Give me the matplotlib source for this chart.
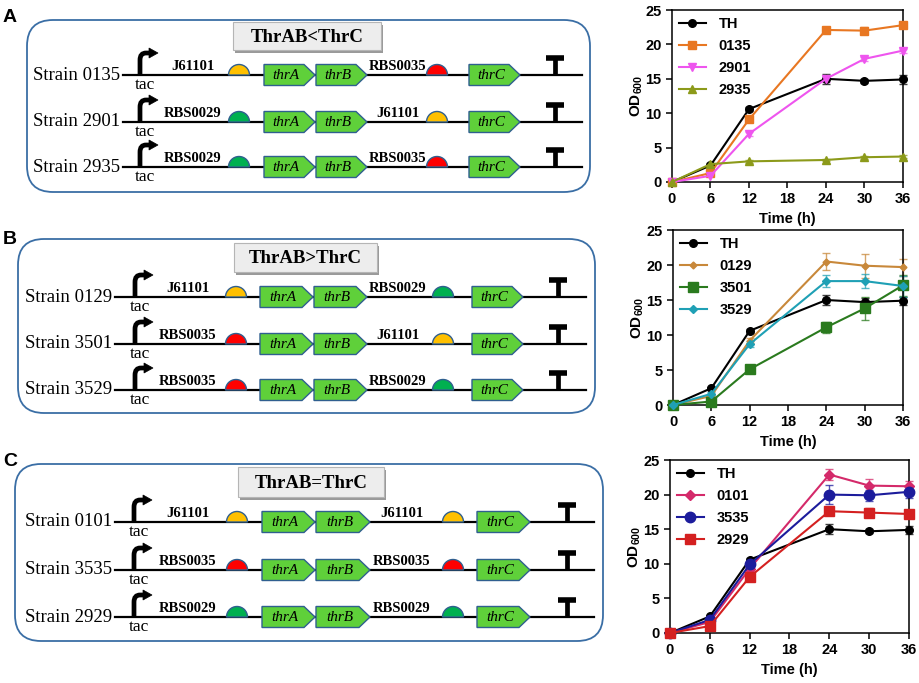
import matplotlib
matplotlib.use('Agg')
import matplotlib.pyplot as plt
from matplotlib.patches import FancyBboxPatch, Rectangle, Polygon, Wedge, PathPatch
from matplotlib.path import Path

plt.rcParams['mathtext.fontset'] = 'custom'
plt.rcParams['mathtext.bf'] = 'Liberation Sans:bold'
plt.rcParams['mathtext.rm'] = 'Liberation Sans:bold'

# ---------------- data ----------------
time_h = [0, 6, 12, 24, 30, 36]
x_ticks = [0, 6, 12, 18, 24, 30, 36]
y_ticks = [0, 5, 10, 15, 20, 25]

# Panel A
a_labels = ['TH', '0135', '2901', '2935']
a_TH = [0, 2.4, 10.6, 15.0, 14.7, 14.9]
a_0135 = [0, 1.3, 9.1, 22.1, 22.0, 22.8]
a_2901 = [0, 0.9, 7.0, 15.0, 17.9, 19.1]
a_2935 = [0, 2.6, 3.0, 3.2, 3.6, 3.7]
a_err_TH = [0, 0.2, 0.3, 0.7, 0.3, 0.6]
a_err_0135 = [0, 0.2, 0.4, 0.5, 0.5, 0.4]
a_err_2901 = [0, 0.1, 0.3, 0.4, 0.3, 0.3]
a_err_2935 = [0, 0.1, 0.2, 0.2, 0.2, 0.2]

# Panel B
b_labels = ['TH', '0129', '3501', '3529']
b_TH = [0, 2.4, 10.6, 15.0, 14.7, 14.9]
b_0129 = [0, 1.3, 9.2, 20.5, 19.9, 19.7]
b_3501 = [0, 0.5, 5.1, 11.1, 13.8, 17.1]
b_3529 = [0, 1.6, 8.7, 17.7, 17.7, 17.0]
b_err_TH = [0, 0.2, 0.3, 0.7, 0.6, 0.6]
b_err_0129 = [0, 0.2, 0.4, 1.2, 1.7, 1.2]
b_err_3501 = [0, 0.2, 0.3, 0.8, 1.7, 1.5]
b_err_3529 = [0, 0.2, 0.4, 0.9, 1.0, 1.5]

# Panel C
c_labels = ['TH', '0101', '3535', '2929']
c_TH = [0, 2.4, 10.6, 15.0, 14.7, 14.9]
c_0101 = [0, 1.6, 9.3, 22.9, 21.3, 21.2]
c_3535 = [0, 1.9, 9.9, 20.0, 19.9, 20.4]
c_2929 = [0, 1.0, 8.1, 17.6, 17.4, 17.2]
c_err_TH = [0, 0.2, 0.3, 0.7, 0.3, 0.6]
c_err_0101 = [0, 0.2, 0.4, 0.8, 1.0, 0.7]
c_err_3535 = [0, 0.2, 0.4, 1.4, 0.8, 0.9]
c_err_2929 = [0, 0.2, 0.3, 0.6, 0.6, 0.4]

# Construct diagrams
panel_letters = ['A', 'B', 'C']
panel_titles = ['ThrAB<ThrC', 'ThrAB>ThrC', 'ThrAB=ThrC']
a_strains = ['Strain 0135', 'Strain 2901', 'Strain 2935']
a_rbs1 = ['J61101', 'RBS0029', 'RBS0029']
a_rbs2 = ['RBS0035', 'J61101', 'RBS0035']
b_strains = ['Strain 0129', 'Strain 3501', 'Strain 3529']
b_rbs1 = ['J61101', 'RBS0035', 'RBS0035']
b_rbs2 = ['RBS0029', 'J61101', 'RBS0029']
c_strains = ['Strain 0101', 'Strain 3535', 'Strain 2929']
c_rbs1 = ['J61101', 'RBS0035', 'RBS0029']
c_rbs2 = ['J61101', 'RBS0035', 'RBS0029']
genes = ['thrA', 'thrB', 'thrC']
promoter_name = 'tac'

rbs_colors = {'J61101': '#FFC000', 'RBS0035': '#FF0000', 'RBS0029': '#00B050'}

# ---------------- figure ----------------
fig = plt.figure(figsize=(9.2, 6.83), dpi=100)
W, H = 920, 683
dax = fig.add_axes([0, 0, 1, 1])
dax.set_xlim(0, W)
dax.set_ylim(H, 0)
dax.axis('off')

SERIF = 'Liberation Serif'
SANS = 'Liberation Sans'
EDGE = '#3A6EA5'
GENE_FC = '#5FD03A'
GENE_EC = '#2F5F8F'

geoms = [
    dict(box=(27, 20, 590, 192), title=(233, 22, 381, 50), rows=[75, 122, 167],
         line=(123, 582), prom=140, lab1=193, rbs1=239, thrA=(264, 315),
         thrB=(316, 367), lab2=398, rbs2=437, thrC=(469, 520), term=555,
         letter=(10, 18)),
    dict(box=(18, 239, 595, 413), title=(234, 243, 377, 272), rows=[297, 344, 390],
         line=(115, 586), prom=135, lab1=188, rbs1=236, thrA=(260, 313),
         thrB=(314, 367), lab2=398, rbs2=443, thrC=(472, 523), term=558,
         letter=(10, 239)),
    dict(box=(15, 464, 603, 641), title=(238, 467, 384, 497), rows=[522, 570, 617],
         line=(115, 594), prom=134, lab1=188, rbs1=237, thrA=(262, 315),
         thrB=(316, 370), lab2=402, rbs2=453, thrC=(477, 530), term=567,
         letter=(10, 461)),
]
strain_sets = [a_strains, b_strains, c_strains]
rbs1_sets = [a_rbs1, b_rbs1, c_rbs1]
rbs2_sets = [a_rbs2, b_rbs2, c_rbs2]


def gene(ax, x0, x1, yc, name, h=21, tip=11):
    pts = [(x0, yc - h / 2), (x1 - tip, yc - h / 2), (x1, yc),
           (x1 - tip, yc + h / 2), (x0, yc + h / 2)]
    ax.add_patch(Polygon(pts, closed=True, fc=GENE_FC, ec=GENE_EC, lw=1.0, zorder=4))
    ax.text((x0 + x1 - tip) / 2 + 2, yc + 0.5, name, ha='center', va='center',
            family=SERIF, style='italic', fontsize=11, zorder=5)


def rbs(ax, x, y, color, r=10.5):
    ax.add_patch(Wedge((x, y), r, 180, 360, fc=color, ec=GENE_EC, lw=1.0, zorder=4))


def promoter(ax, x, y):
    verts = [(x, y), (x, y - 15), (x, y - 22), (x + 6, y - 22), (x + 10, y - 22)]
    codes = [Path.MOVETO, Path.LINETO, Path.CURVE3, Path.CURVE3, Path.LINETO]
    ax.add_patch(PathPatch(Path(verts, codes), fc='none', ec='black', lw=3.4,
                           capstyle='butt', zorder=5))
    ax.add_patch(Polygon([(x + 9, y - 27), (x + 18, y - 22), (x + 9, y - 17)],
                         closed=True, fc='black', ec='black', lw=0.5, zorder=5))


def terminator(ax, x, y):
    ax.plot([x, x], [y, y - 17], color='black', lw=3.4, solid_capstyle='butt', zorder=5)
    ax.plot([x - 9, x + 9], [y - 17, y - 17], color='black', lw=4, solid_capstyle='butt',
            zorder=5)


for p, g in enumerate(geoms):
    bx0, by0, bx1, by1 = g['box']
    dax.add_patch(FancyBboxPatch((bx0, by0), bx1 - bx0, by1 - by0,
                                 boxstyle='round,pad=0,rounding_size=26',
                                 fc='white', ec=EDGE, lw=1.3, zorder=1))
    tx0, ty0, tx1, ty1 = g['title']
    dax.add_patch(Rectangle((tx0 + 2.5, ty0 + 2.5), tx1 - tx0, ty1 - ty0,
                            fc='#9A9A9A', ec='none', zorder=2))
    dax.add_patch(Rectangle((tx0, ty0), tx1 - tx0, ty1 - ty0,
                            fc='#EDEDED', ec='#B5B5B5', lw=0.8, zorder=3))
    dax.text((tx0 + tx1) / 2, (ty0 + ty1) / 2 + 1, panel_titles[p], ha='center',
             va='center', family=SERIF, weight='bold', fontsize=13.5, zorder=4)
    lx, ly = g['letter']
    dax.text(lx, ly, panel_letters[p], ha='center', va='center', family=SANS,
             weight='bold', fontsize=14)
    for r, yl in enumerate(g['rows']):
        x0, x1 = g['line']
        dax.plot([x0, x1], [yl, yl], color='black', lw=1.6, zorder=3)
        dax.text(x0 - 3, yl, strain_sets[p][r], ha='right', va='center', family=SERIF,
                 fontsize=13.5)
        promoter(dax, g['prom'], yl)
        dax.text(g['prom'] + 5, yl + 10, promoter_name, ha='center', va='center',
                 family=SERIF, fontsize=12.5)
        l1 = rbs1_sets[p][r]
        l2 = rbs2_sets[p][r]
        dax.text(g['lab1'], yl - 2, l1, ha='center', va='bottom', family=SERIF,
                 weight='bold', fontsize=10.5)
        rbs(dax, g['rbs1'], yl, rbs_colors[l1])
        gene(dax, g['thrA'][0], g['thrA'][1], yl, genes[0])
        gene(dax, g['thrB'][0], g['thrB'][1], yl, genes[1])
        dax.text(g['lab2'], yl - 2, l2, ha='center', va='bottom', family=SERIF,
                 weight='bold', fontsize=10.5)
        rbs(dax, g['rbs2'], yl, rbs_colors[l2])
        gene(dax, g['thrC'][0], g['thrC'][1], yl, genes[2])
        terminator(dax, g['term'], yl)

# ---------------- charts ----------------
chart_boxes = [(672, 10, 903, 182), (673, 230, 903, 405), (670, 460, 909, 633)]

series = [
    [(a_labels[0], a_TH, a_err_TH, 'black', 'o', 5.5),
     (a_labels[1], a_0135, a_err_0135, '#E87722', 's', 5.5),
     (a_labels[2], a_2901, a_err_2901, '#EE55EE', 'v', 6),
     (a_labels[3], a_2935, a_err_2935, '#8C9A1A', '^', 5.5)],
    [(b_labels[0], b_TH, b_err_TH, 'black', 'o', 5.5),
     (b_labels[1], b_0129, b_err_0129, '#C8883A', 'D', 3.5),
     (b_labels[2], b_3501, b_err_3501, '#2A7A1E', 's', 7),
     (b_labels[3], b_3529, b_err_3529, '#1FA0B5', 'D', 4)],
    [(c_labels[0], c_TH, c_err_TH, 'black', 'o', 5.5),
     (c_labels[1], c_0101, c_err_0101, '#D42A6A', 'D', 5),
     (c_labels[2], c_3535, c_err_3535, '#1C1C9C', 'o', 7.5),
     (c_labels[3], c_2929, c_err_2929, '#D42020', 's', 6.5)],
]

for (x0, y0, x1, y1), ser in zip(chart_boxes, series):
    ax = fig.add_axes([x0 / W, 1 - y1 / H, (x1 - x0) / W, (y1 - y0) / H])
    for name, vals, err, col, mk, ms in ser:
        eb = ax.errorbar(time_h, vals, yerr=err, fmt='none', ecolor=col, elinewidth=1.0,
                         capsize=3, capthick=1.0, alpha=0.75)
        for art in list(eb.lines[1]) + list(eb.lines[2]):
            art.set_clip_on(False)
        ax.plot(time_h, vals, color=col, marker=mk, ms=ms, lw=1.5, label=name,
                clip_on=False, zorder=3)
    ax.set_xlim(0, 36)
    ax.set_ylim(0, 25)
    ax.set_xticks(x_ticks)
    ax.set_yticks(y_ticks)
    for s in ax.spines.values():
        s.set_linewidth(1.1)
    ax.tick_params(direction='out', length=4, width=1.1, labelsize=10.5)
    for lab in ax.get_xticklabels() + ax.get_yticklabels():
        lab.set_family(SANS)
        lab.set_weight('bold')
    ax.set_xlabel('Time (h)', family=SANS, weight='bold', fontsize=10.5, labelpad=4)
    ax.set_ylabel(r'OD$_{\mathbf{600}}$', family=SANS, weight='bold', fontsize=11,
                  labelpad=0)
    ax.legend(loc='upper left', frameon=False,
              prop=dict(family=SANS, weight='bold', size=10.5),
              handlelength=1.8, handletextpad=0.9, labelspacing=0.55,
              borderaxespad=0.3, borderpad=0.2)

fig.savefig('out.png', dpi=100)
